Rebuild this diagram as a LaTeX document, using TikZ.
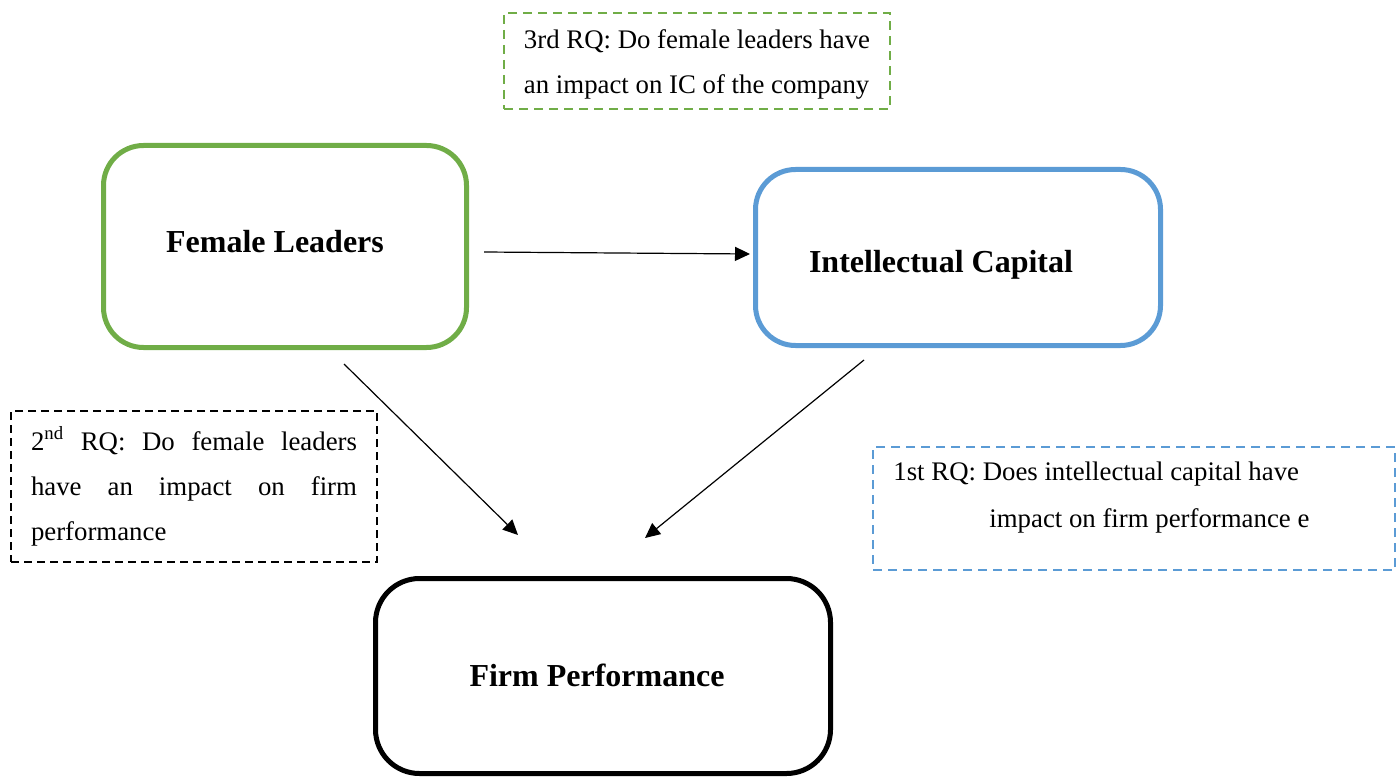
\documentclass[tikz,border=0pt]{standalone}
\usepackage{fontspec}
\setmainfont{Liberation Serif}
\usetikzlibrary{arrows.meta}

\definecolor{flgreen}{HTML}{70AD47}
\definecolor{icblue}{HTML}{5B9BD5}

\begin{document}
\begin{tikzpicture}[x=0.5pt,y=-0.5pt]
    \tikzset{mainbox/.style = {draw, line width=2.5pt, rounded corners=20pt}}
    \tikzset{boxlabel/.style = {font=\fontsize{16}{19}\selectfont\bfseries}}
    \tikzset{rqbox/.style = {draw, line width=1pt, dash pattern=on 4.5pt off 3pt,
                             font=\fontsize{13.4}{22.5}\selectfont}}
    \tikzset{link/.style = {line width=0.6pt, -{Triangle[length=7.5pt,width=7pt]}}}
    \useasboundingbox (0,0) rectangle (1400,780);

    \node[mainbox, draw=flgreen, minimum width=181.5pt, minimum height=101pt] (fl) at (285,246.5) {};
    \node[boxlabel] (fltxt) at (275,242) {Female Leaders};
    \node[mainbox, draw=icblue, minimum width=202.5pt, minimum height=88pt] (ic) at (958,257.5) {};
    \node[boxlabel] (ictxt) at (941,265) {Intellectual Capital};
    \node[mainbox, minimum width=227.5pt, minimum height=97.5pt, rounded corners=22pt] (fp) at (603,676) {};
    \node[boxlabel] (fptxt) at (597,675) {Firm Performance};

    \node[rqbox, draw=flgreen, minimum width=193pt, minimum height=48pt] (rq3) at (697,61) {};
    \node[font=\fontsize{13.4}{22.5}\selectfont, align=left] (rq3txt) at (697,64)
         {3rd RQ: Do female leaders have\\an impact on IC of the company};
    \node[rqbox, dash pattern=on 4pt off 2.5pt, minimum width=183pt, minimum height=75.5pt,
          text width=163pt, inner xsep=10pt, align=justify] (rq2) at (194,486.5)
         {2\textsuperscript{nd} RQ: Do female leaders\linebreak have an impact on firm\linebreak performance};
    \node[rqbox, draw=icblue, minimum width=261pt, minimum height=61.5pt] (rq1) at (1134,508.5) {};
    \node[font=\fontsize{13.4}{23.5}\selectfont, align=left, anchor=north west, inner sep=0pt] (rq1txt)
         at (893,461) {1st RQ: Does intellectual capital have\\\hspace*{48pt}impact on firm performance e};

    % arrows
    \coordinate (a1) at (484,252);
    \coordinate (b1) at (750,254);
    \coordinate (a2) at (344,364);
    \coordinate (b2) at (518,535);
    \coordinate (a3) at (864,360);
    \coordinate (b3) at (645,538);
    \draw[link] (a1) -- (b1);
    \draw[link] (a2) -- (b2);
    \draw[link] (a3) -- (b3);
\end{tikzpicture}
\end{document}
